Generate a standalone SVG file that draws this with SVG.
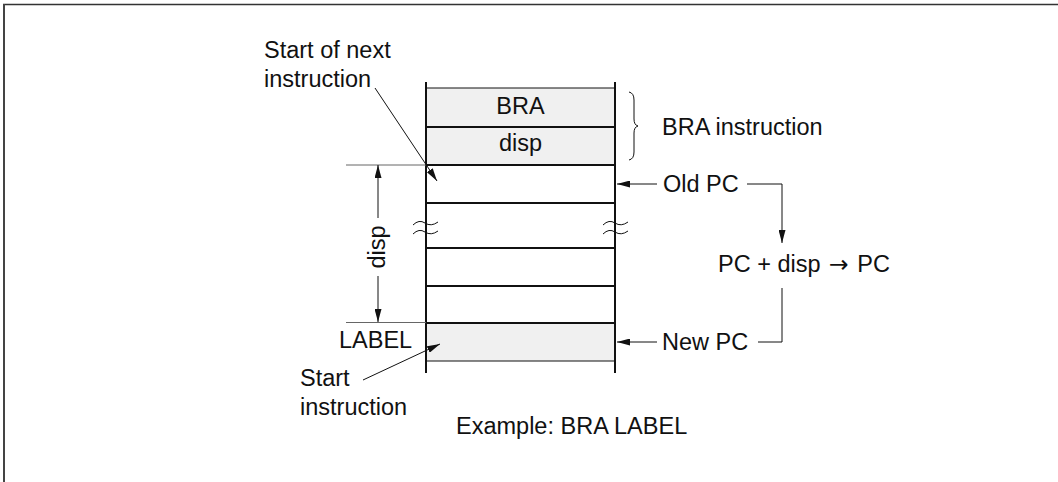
<svg xmlns="http://www.w3.org/2000/svg" width="1058" height="482" viewBox="0 0 1058 482">
<style>
text{font-family:"Liberation Sans",Arial,sans-serif;font-size:23.5px;fill:#111}
.arr{font-family:"DejaVu Sans",sans-serif;font-weight:normal}
.ln{stroke:#111;stroke-width:1;fill:none}
.thick{stroke:#111;stroke-width:2;fill:none}
.gray{stroke:#666;stroke-width:1;fill:none}
.cell{fill:#f0f0f0;stroke:none}
</style>
<defs>
<marker id="ah" viewBox="0 0 13 7" refX="13" refY="3.5" markerWidth="13" markerHeight="7" markerUnits="userSpaceOnUse" orient="auto">
<path d="M0,0 L13,3.5 L0,7 Z" fill="#111"/>
</marker>
</defs>
<g id="frame">
<line x1="3" y1="4.5" x2="1058" y2="4.5" stroke="#333" stroke-width="1.5"/>
<line x1="4" y1="4" x2="4" y2="482" stroke="#444" stroke-width="2"/>
</g>
<g id="memory">
<rect class="cell" x="426" y="88" width="189" height="77"/>
<rect class="cell" x="426" y="323" width="189" height="38"/>
<line class="thick" x1="426" y1="82" x2="426" y2="373"/>
<line class="thick" x1="615" y1="82" x2="615" y2="373"/>
<line class="ln" x1="426" y1="88" x2="615" y2="88" stroke-width="1.5"/>
<line class="thick" x1="426" y1="127" x2="615" y2="127"/>
<line class="thick" x1="426" y1="165" x2="615" y2="165"/>
<line class="thick" x1="426" y1="203" x2="615" y2="203"/>
<line class="thick" x1="426" y1="248" x2="615" y2="248"/>
<line class="thick" x1="426" y1="286" x2="615" y2="286"/>
<line class="thick" x1="426" y1="323" x2="615" y2="323"/>
<line class="ln" x1="426" y1="361" x2="615" y2="361" stroke-width="1.5"/>
<text x="520.5" y="114" text-anchor="middle">BRA</text>
<text x="520.5" y="151" text-anchor="middle">disp</text>
<path class="ln" d="M413,225 Q419,219 425,223 T438,222 M413,234 Q419,228 425,232 T438,231"/>
<path class="ln" d="M603,225 Q609,219 615,223 T628,222 M603,234 Q609,228 615,232 T628,231"/>
</g>
<g id="brace">
<path class="ln" d="M629,92 Q634,93 634,100 L634,119 Q634,125 638,126 Q634,127 634,133 L634,152 Q634,159 629,160"/>
<text x="662" y="135">BRA instruction</text>
</g>
<g id="labels">
<text x="264" y="58">Start of next</text>
<text x="264" y="87">instruction</text>
<text x="339" y="348" font-size="22.5">LABEL</text>
<text x="300" y="386">Start</text>
<text x="300" y="415">instruction</text>
<text x="456" y="434">Example: BRA LABEL</text>
<text x="663" y="192">Old PC</text>
<text x="662" y="350">New PC</text>
<text x="718" y="272">PC + disp <tspan class="arr" dx="2">→</tspan><tspan dx="2"> PC</tspan></text>
<text transform="translate(385,247) rotate(-90)" text-anchor="middle">disp</text>
</g>
<g id="connectors">
<line class="gray" x1="346" y1="165" x2="426" y2="165"/>
<line class="gray" x1="346" y1="322.5" x2="426" y2="322.5"/>
<line class="ln" x1="378" y1="218" x2="378" y2="165" marker-end="url(#ah)"/>
<line class="ln" x1="378" y1="276" x2="378" y2="322" marker-end="url(#ah)"/>
<line class="ln" x1="375" y1="88" x2="437" y2="181" marker-end="url(#ah)"/>
<line class="ln" x1="363" y1="380" x2="440" y2="344" marker-end="url(#ah)"/>
<line class="ln" x1="657" y1="184" x2="617" y2="184" marker-end="url(#ah)"/>
<polyline class="ln" points="747,184 782,184 782,243" marker-end="url(#ah)"/>
<polyline class="ln" points="782,288 782,342 758,342"/>
<line class="ln" x1="657" y1="342" x2="617" y2="342" marker-end="url(#ah)"/>
</g>
</svg>
